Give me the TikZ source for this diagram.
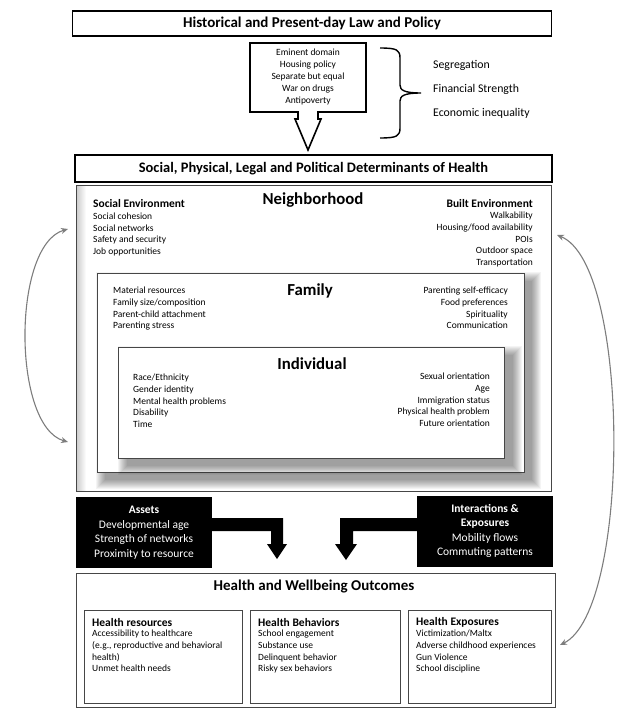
\documentclass[tikz,border=0pt]{standalone}
\usepackage{fontspec}
\setmainfont{Carlito}
\usetikzlibrary{arrows.meta}
\definecolor{arrowgray}{RGB}{125,125,125}
\definecolor{framegray}{RGB}{70,70,70}
\newcommand\mysoftshadow[4]{%
  \foreach \k in {0,...,9}{%
    \fill[black,opacity=0.045] ({#1-9+\k},{#2-9+\k}) rectangle ({#3+9-\k},{#4+9-\k});}}
\begin{document}
\begin{tikzpicture}[x=1pt,y=-1pt,
  txt/.style={inner sep=0pt, font=\fontsize{9.5}{11.6}\selectfont},
  lbl/.style={txt, anchor=north west, align=left},
  rbl/.style={txt, anchor=north east, align=right},
  head/.style={inner sep=0pt, font=\bfseries\fontsize{11.5}{13}\selectfont},
  bigtitle/.style={inner sep=0pt, font=\bfseries\fontsize{16.8}{18}\selectfont},
  thickbox/.style={draw=black, line width=1.6pt, fill=white, inner sep=0pt},
  darkbox/.style={fill=black, text=white, inner sep=0pt, align=center, font=\fontsize{11.5}{14.6}\selectfont, minimum width=136pt, minimum height=71pt},
  thinframe/.style={draw=framegray, line width=0.8pt},
  curvarrow/.style={draw=arrowgray, line width=1.1pt, {Stealth[length=7pt,width=6pt]}-{Stealth[length=7pt,width=6pt]}},
  blockarrow/.style={fill=black, draw=none}
]
\useasboundingbox (0,0) rectangle (644,720);

% top law box
\node[thickbox, minimum width=479pt, minimum height=25pt, font=\bfseries\fontsize{15}{17}\selectfont] (law) at (312,23.5) {Historical and Present-day Law and Policy};

% callout with arrow
\draw[line width=1.6pt, fill=white] (250,43) -- (366,43) -- (366,112) -- (318,112) -- (318,119) -- (321,119) -- (308,150) -- (295,119) -- (298,119) -- (298,112) -- (250,112) -- cycle;
\node[inner sep=0pt, align=center, font=\fontsize{9.5}{11.8}\selectfont] (policies) at (308,77) {Eminent domain\\Housing policy\\Separate but equal\\War on drugs\\Antipoverty};

% brace
\draw[line width=1.4pt] (380,48) .. controls (397,48) and (400,50) .. (400,58) -- (400,85) .. controls (400,90) and (404,93) .. (421,93)
  .. controls (404,93) and (400,96) .. (400,101) -- (400,128) .. controls (400,136) and (397,138) .. (380,138);
\node[inner sep=0pt, anchor=west, font=\fontsize{11.8}{13}\selectfont] (seg) at (433,65) {Segregation};
\node[inner sep=0pt, anchor=west, font=\fontsize{11.8}{13}\selectfont] (fin) at (433,89) {Financial Strength};
\node[inner sep=0pt, anchor=west, font=\fontsize{11.8}{13}\selectfont] (econ) at (433,113) {Economic inequality};

% determinants box
\node[thickbox, minimum width=477pt, minimum height=27pt, font=\bfseries\fontsize{14.5}{16}\selectfont] (determ) at (313.5,168.5) {Social, Physical, Legal and Political Determinants of Health};

% neighborhood frame
\draw[thinframe, fill=white] (76,185) rectangle (551,491);
\shade[left color=gray!40, right color=white] (76.5,185.5) rectangle (86,490.5);
\draw[thinframe] (76,185) rectangle (551,491);
\node[bigtitle] (neigh) at (313,200) {Neighborhood};
\node[head, anchor=west] (socenv) at (93,204) {Social Environment};
\node[lbl] (socitems) at (93,213) {Social cohesion\\Social networks\\Safety and security\\Job opportunities};
\node[head, anchor=east] (builtenv) at (533,204) {Built Environment};
\node[rbl] (builtitems) at (533,212) {Walkability\\Housing/food availability\\POIs\\Outdoor space\\Transportation};

% family
\mysoftshadow{105}{281}{532}{480}
\draw[thinframe, fill=white] (97,273) rectangle (524,472);
\node[bigtitle] (family) at (310,291) {Family};
\node[lbl] (famleft) at (113,287) {Material resources\\Family size/composition\\Parent-child attachment\\Parenting stress};
\node[rbl] (famright) at (508,287) {Parenting self-efficacy\\Food preferences\\Spirituality\\Communication};

% individual
\mysoftshadow{127}{355}{513}{466}
\draw[thinframe, fill=white] (118,347) rectangle (504,458);
\node[bigtitle] (indiv) at (312,364) {Individual};
\node[lbl] (indleft) at (133,374) {Race/Ethnicity\\Gender identity\\Mental health problems\\Disability\\Time};
\node[rbl] (indright) at (490,373) {Sexual orientation\\Age\\Immigration status\\Physical health problem\\Future orientation};

% assets & interactions
\node[darkbox] (assets) at (144,532.5) {\textbf{Assets}\\Developmental age\\Strength of networks\\Proximity to resource};
\node[darkbox] (inter) at (485,531) {\textbf{Interactions \&}\\\textbf{Exposures}\\Mobility flows\\Commuting patterns};
\fill[blockarrow] (assets.east |- 0,518) -- (283,518) -- (283,544) -- (287,544) -- (277,559) -- (267,544) -- (271,544) -- (271,531) -- (assets.east |- 0,531) -- cycle;
\fill[blockarrow] (inter.west |- 0,518) -- (340,518) -- (340,544) -- (335,544) -- (346,560) -- (357,544) -- (353,544) -- (353,531) -- (inter.west |- 0,531) -- cycle;

% outcomes
\draw[thinframe] (76,573) rectangle (555,707);
\node[inner sep=0pt, font=\bfseries\fontsize{15}{17}\selectfont] (outcomes) at (314,587) {Health and Wellbeing Outcomes};
\draw[thinframe] (84,610) rectangle (242,703);
\draw[thinframe] (250,610) rectangle (400,703);
\draw[thinframe] (408,610) rectangle (551,703);
\node[head, anchor=west] (hres) at (92,622) {Health resources};
\node[lbl] (hresitems) at (92,630) {Accessibility to healthcare\\(e.g., reproductive and behavioral\\health)\\Unmet health needs};
\node[head, anchor=west] (hbeh) at (258,622) {Health Behaviors};
\node[lbl] (hbehitems) at (258,630) {School engagement\\Substance use\\Delinquent behavior\\Risky sex behaviors};
\node[head, anchor=west] (hexp) at (416,622) {Health Exposures};
\node[lbl] (hexpitems) at (416,630) {Victimization/Maltx\\Adverse childhood experiences\\Gun Violence\\School discipline};

% curved arrows
\coordinate (la) at (68,229);
\coordinate (lb) at (68,442);
\coordinate (ra) at (557,235);
\coordinate (rb) at (560,645);
\draw[curvarrow] (la) .. controls (12,245) and (12,426) .. (lb);
\draw[curvarrow] (ra) .. controls (631,265) and (631,610) .. (rb);
\end{tikzpicture}
\end{document}
